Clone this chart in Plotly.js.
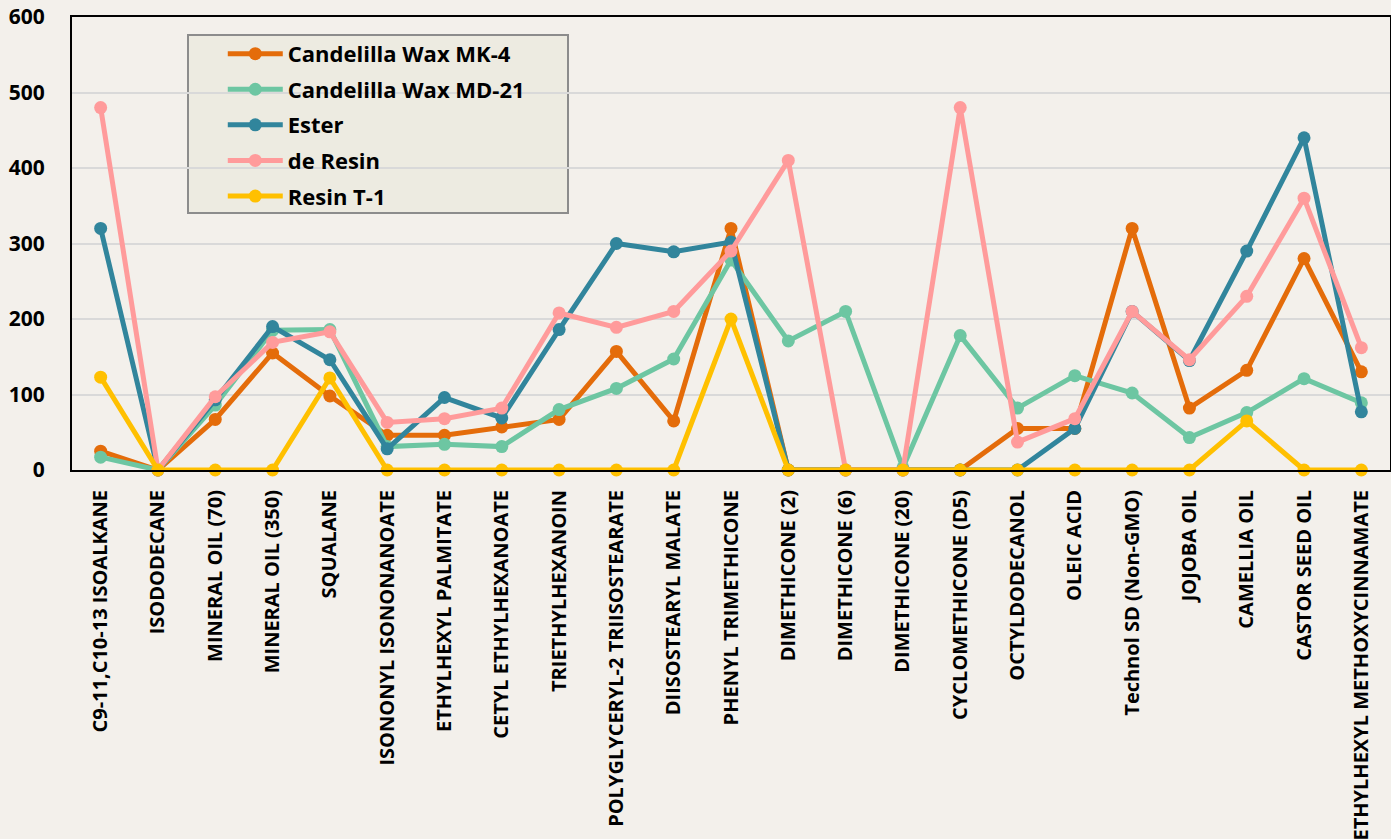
<!DOCTYPE html>
<html>
<head>
<meta charset="utf-8">
<script src="https://cdn.plot.ly/plotly-3.0.1.min.js"></script>
<style>
  html, body { margin: 0; padding: 0; background: #F3F0EB; }
  #chart { width: 1391px; height: 839px; }
</style>
</head>
<body>
<div id="chart"></div>
<script>
const categories = [
  "C9-11,C10-13 ISOALKANE", "ISODODECANE", "MINERAL OIL (70)", "MINERAL OIL (350)",
  "SQUALANE", "ISONONYL ISONONANOATE", "ETHYLHEXYL PALMITATE", "CETYL ETHYLHEXANOATE",
  "TRIETHYLHEXANOIN", "POLYGLYCERYL-2 TRIISOSTEARATE", "DIISOSTEARYL MALATE",
  "PHENYL TRIMETHICONE", "DIMETHICONE (2)", "DIMETHICONE (6)", "DIMETHICONE (20)",
  "CYCLOMETHICONE (D5)", "OCTYLDODECANOL", "OLEIC ACID", "Technol SD (Non-GMO)",
  "JOJOBA OIL", "CAMELLIA OIL", "CASTOR SEED OIL", "ETHYLHEXYL METHOXYCINNAMATE"
];

const seriesNames = ["Candelilla Wax MK-4", "Candelilla Wax MD-21", "Ester", "de Resin", "Resin T-1"];

const waxMK4  = [25, 0, 67, 155, 98, 46, 46, 57, 67, 157, 65, 320, 0, 0, 0, 0, 55, 55, 320, 82, 132, 280, 130];
const waxMD21 = [17, 0, 86, 185, 186, 31, 34, 31, 80, 108, 147, 278, 171, 210, 3, 178, 82, 125, 102, 43, 76, 121, 89];
const ester   = [320, 0, 93, 190, 146, 28, 96, 69, 186, 300, 289, 302, 0, 0, 0, 0, 0, 55, 210, 145, 290, 440, 77];
const deResin = [480, 0, 97, 169, 183, 63, 68, 82, 208, 189, 210, 290, 410, 0, 0, 480, 37, 68, 210, 146, 230, 360, 162];
const resinT1 = [123, 0, 0, 0, 122, 0, 0, 0, 0, 0, 0, 200, 0, 0, 0, 0, 0, 0, 0, 0, 65, 0, 0];

const yTicks = [0, 100, 200, 300, 400, 500, 600];

const seriesValues = [waxMK4, waxMD21, ester, deResin, resinT1];
const colors = ["#E46C0A", "#6DC6A2", "#31859C", "#FF9B9B", "#FFC000"];

const traces = seriesNames.map((name, i) => ({
  type: "scatter",
  mode: "lines+markers",
  name: name,
  legendgroup: "g" + i,
  x: categories,
  y: seriesValues[i],
  line: { color: colors[i], width: 5 },
  marker: { color: colors[i], size: 13 },
  cliponaxis: false
}));

const font = "Open Sans, Noto Sans, sans-serif";

const layout = {
  width: 1391,
  height: 839,
  paper_bgcolor: "#F3F0EB",
  plot_bgcolor: "#F3F0EB",
  margin: { l: 72, r: 1, t: 17, b: 369 },
  showlegend: true,
  legend: {
    x: 0.1144, y: 0.965, xanchor: "left", yanchor: "top",
    bgcolor: "rgba(0,0,0,0)",
    borderwidth: 0,
    itemwidth: 55,
    tracegroupgap: 4,
    font: { family: font, size: 22, color: "#000000", weight: "bold" }
  },
  shapes: [{
    type: "rect", xref: "paper", yref: "paper",
    x0: (188 - 72) / 1318, x1: (568 - 72) / 1318,
    y0: (470 - 213) / 453, y1: (470 - 35) / 453,
    fillcolor: "#EDEBE1",
    line: { color: "#8C8C8C", width: 2 },
    layer: "below"
  }],
  xaxis: {
    type: "category",
    range: [-0.5, categories.length - 0.5],
    tickangle: -90,
    showgrid: false,
    showline: true,
    linecolor: "#000000",
    linewidth: 2,
    mirror: true,
    ticks: "",
    ticklabelstandoff: 10,
    tickfont: { family: font, size: 20, color: "#000000", weight: "bold" }
  },
  yaxis: {
    range: [0, 600],
    tickvals: yTicks,
    ticktext: yTicks.map(String),
    showgrid: true,
    gridcolor: "#D9D9D9",
    gridwidth: 2,
    zeroline: false,
    showline: true,
    linecolor: "#000000",
    linewidth: 2,
    mirror: true,
    ticks: "",
    ticklabelstandoff: 21,
    tickfont: { family: font, size: 21, color: "#000000", weight: "bold" }
  }
};

Plotly.newPlot("chart", traces, layout, { displayModeBar: false, staticPlot: true });
</script>
</body>
</html>
